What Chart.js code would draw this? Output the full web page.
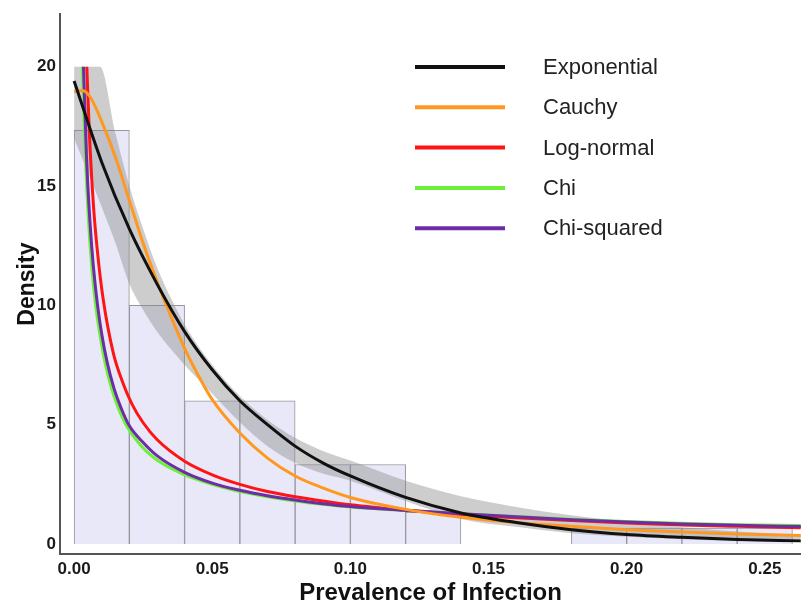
<!DOCTYPE html>
<html>
<head>
<meta charset="utf-8">
<script src="https://cdn.jsdelivr.net/npm/chart.js@4/dist/chart.umd.min.js"></script>
<style>
  html, body { margin: 0; padding: 0; background: #fff; }
  #wrap { width: 801px; height: 603px; position: relative; }
</style>
</head>
<body>
<div id="wrap"><canvas id="c"></canvas></div>
<script>
// ---- Histogram (bin centres, width 0.02) ----
const binCenters = [0.01, 0.03, 0.05, 0.07, 0.09, 0.11, 0.13, 0.15, 0.17, 0.19, 0.21, 0.23, 0.25];
const binDensity = [17.33, 10.0, 6.0, 6.0, 3.33, 3.33, 1.33, 0, 0, 0.67, 0.67, 0.67, 0.67];

// ---- Exponential fit ----
const expX = [0, 0.01, 0.02, 0.03, 0.04, 0.05, 0.06, 0.07, 0.08, 0.09, 0.10, 0.12, 0.14, 0.16, 0.18, 0.20, 0.22, 0.24, 0.263];
const expY = [19.4, 16.0, 13.2, 10.9, 8.9, 7.3, 6.0, 5.0, 4.1, 3.4, 2.85, 1.95, 1.3, 0.9, 0.6, 0.4, 0.28, 0.19, 0.13];

// ---- Confidence band around exponential ----
const bandX = [0, 0.0094, 0.015, 0.02, 0.025, 0.03, 0.04, 0.05, 0.06, 0.07, 0.08, 0.09, 0.10, 0.12, 0.14, 0.16, 0.18, 0.20, 0.22, 0.24, 0.263];
const bandUpper = [20, 20, 17.2, 15.0, 13.2, 11.6, 9.2, 7.5, 6.2, 5.2, 4.45, 3.9, 3.5, 2.65, 2.0, 1.55, 1.2, 0.92, 0.7, 0.52, 0.38];
const bandLower = [17.0, 14.3, 12.6, 10.9, 9.8, 8.9, 7.5, 6.3, 5.1, 4.1, 3.4, 2.95, 2.65, 1.8, 1.05, 0.72, 0.45, 0.3, 0.2, 0.13, 0.08];

// ---- Cauchy fit ----
const cauchyX = [0, 0.003, 0.006, 0.01, 0.015, 0.02, 0.025, 0.03, 0.035, 0.04, 0.045, 0.05, 0.06, 0.07, 0.08, 0.09, 0.10, 0.12, 0.14, 0.16, 0.18, 0.20, 0.22, 0.24, 0.263];
const cauchyY = [18.95, 19.0, 18.7, 17.7, 16.2, 14.4, 12.6, 11.0, 9.55, 8.2, 7.05, 6.05, 4.65, 3.6, 2.85, 2.35, 1.95, 1.45, 1.12, 0.9, 0.74, 0.6, 0.5, 0.42, 0.36];

// ---- Log-normal fit ----
const lognX = [0.0046, 0.0055, 0.007, 0.0085, 0.0106, 0.0142, 0.0175, 0.021, 0.025, 0.03, 0.04, 0.05, 0.06, 0.07, 0.08, 0.09, 0.10, 0.12, 0.14, 0.16, 0.18, 0.20, 0.22, 0.24, 0.263];
const lognY = [20, 17.3, 14.2, 12.2, 10.2, 8.0, 6.8, 5.85, 5.08, 4.38, 3.47, 2.9, 2.5, 2.2, 1.98, 1.8, 1.64, 1.41, 1.23, 1.1, 0.98, 0.88, 0.8, 0.74, 0.68];

// ---- Chi fit ----
const chiX = [0.0030, 0.0041, 0.0053, 0.0064, 0.0078, 0.0093, 0.0112, 0.0136, 0.016, 0.019, 0.024, 0.029, 0.039, 0.05, 0.06, 0.07, 0.08, 0.09, 0.10, 0.12, 0.14, 0.16, 0.18, 0.20, 0.22, 0.24, 0.263];
const chiY = [20, 16.2, 13.4, 11.6, 10.0, 8.8, 7.6, 6.5, 5.7, 4.95, 4.15, 3.6, 2.95, 2.5, 2.2, 1.98, 1.8, 1.66, 1.55, 1.4, 1.27, 1.15, 1.04, 0.94, 0.87, 0.81, 0.77];

// ---- Chi-squared fit ----
const chisqX = [0.0034, 0.0045, 0.0058, 0.007, 0.0085, 0.01, 0.012, 0.0145, 0.017, 0.02, 0.025, 0.03, 0.04, 0.05, 0.06, 0.07, 0.08, 0.09, 0.10, 0.12, 0.14, 0.16, 0.18, 0.20, 0.22, 0.24, 0.263];
const chisqY = [20, 16.2, 13.4, 11.6, 10.0, 8.8, 7.6, 6.5, 5.7, 4.95, 4.25, 3.7, 3.0, 2.55, 2.25, 2.02, 1.84, 1.69, 1.57, 1.41, 1.27, 1.14, 1.02, 0.92, 0.84, 0.78, 0.73];

// ---- Axis ticks ----
const xTicks = [0, 0.05, 0.10, 0.15, 0.20, 0.25];
const yTicks = [0, 5, 10, 15, 20];

const legendNames = ['Exponential', 'Cauchy', 'Log-normal', 'Chi', 'Chi-squared'];
const colors = { exp: '#111111', cauchy: '#ff9820', logn: '#ff1414', chi: '#6cf03a', chisq: '#6e2ca6' };

const pts = (xs, ys) => xs.map((x, i) => ({ x: x, y: ys[i] }));

function lineDs(label, xs, ys, color, order) {
  return {
    type: 'line', label: label, data: pts(xs, ys),
    borderColor: color, borderWidth: 3, pointRadius: 0, fill: false,
    cubicInterpolationMode: 'monotone', order: order
  };
}

const FONT = '"Liberation Sans", Arial, sans-serif';

const legendPlugin = {
  id: 'customLegend',
  afterDraw(chart) {
    const ctx = chart.ctx;
    const entries = [
      [legendNames[0], colors.exp], [legendNames[1], colors.cauchy], [legendNames[2], colors.logn],
      [legendNames[3], colors.chi], [legendNames[4], colors.chisq]
    ];
    ctx.save();
    ctx.font = '22px ' + FONT;
    ctx.textBaseline = 'middle';
    entries.forEach((e, i) => {
      const y = 67 + i * 40.3;
      ctx.strokeStyle = e[1];
      ctx.lineWidth = 4;
      ctx.beginPath();
      ctx.moveTo(415, y);
      ctx.lineTo(505, y);
      ctx.stroke();
      ctx.fillStyle = '#222';
      ctx.fillText(e[0], 543, y + 1);
    });
    ctx.restore();
  }
};

new Chart(document.getElementById('c'), {
  data: {
    datasets: [
      lineDs(legendNames[0], expX, expY, colors.exp, 1),
      lineDs(legendNames[1], cauchyX, cauchyY, colors.cauchy, 2),
      lineDs(legendNames[4], chisqX, chisqY, colors.chisq, 3),
      lineDs(legendNames[2], lognX, lognY, colors.logn, 4),
      lineDs(legendNames[3], chiX, chiY, colors.chi, 5),
      {
        type: 'line', label: 'band upper', data: pts(bandX, bandUpper),
        borderWidth: 0, borderColor: 'rgba(0,0,0,0)', pointRadius: 0,
        backgroundColor: 'rgba(135,135,135,0.42)', fill: '+1',
        cubicInterpolationMode: 'monotone', order: 8
      },
      {
        type: 'line', label: 'band lower', data: pts(bandX, bandLower),
        borderWidth: 0, borderColor: 'rgba(0,0,0,0)', pointRadius: 0, fill: false,
        cubicInterpolationMode: 'monotone', order: 9
      },
      {
        type: 'bar', label: 'histogram', data: pts(binCenters, binDensity),
        backgroundColor: 'rgb(232,232,248)', borderColor: 'rgb(150,150,155)', borderWidth: 1,
        barPercentage: 1, categoryPercentage: 1, order: 10
      }
    ]
  },
  options: {
    responsive: true, maintainAspectRatio: false, animation: false,
    layout: { padding: { top: 10, right: 0, left: 0, bottom: -5 } },
    plugins: { legend: { display: false }, tooltip: { enabled: false } },
    scales: {
      x: {
        type: 'linear', min: -0.0051, max: 0.2631, offset: false,
        grid: { display: false, drawTicks: false },
        border: { display: true, color: '#555', width: 2 },
        afterBuildTicks: (s) => { s.ticks = xTicks.map(v => ({ value: v })); },
        afterFit: (s) => { s.height = 54; },
        ticks: {
          color: '#1a1a1a', padding: 5, maxRotation: 0,
          font: { family: FONT, size: 17, weight: 'bold' },
          callback: (v) => Number(v).toFixed(2)
        },
        title: {
          display: true, text: 'Prevalence of Infection', color: '#111',
          font: { family: FONT, size: 24, weight: 'bold' },
          padding: { top: 6, bottom: 0 }
        }
      },
      y: {
        type: 'linear', min: -0.42, max: 22.2,
        grid: { display: false, drawTicks: false },
        border: { display: true, color: '#555', width: 2 },
        afterBuildTicks: (s) => { s.ticks = yTicks.map(v => ({ value: v })); },
        afterFit: (s) => { s.width = 60; },
        ticks: {
          color: '#1a1a1a', padding: 4,
          font: { family: FONT, size: 17, weight: 'bold' }
        },
        title: {
          display: true, text: 'Density', color: '#111',
          font: { family: FONT, size: 23, weight: 'bold' },
          padding: { top: 14, bottom: 0 }
        }
      }
    }
  },
  plugins: [legendPlugin]
});
</script>
</body>
</html>
